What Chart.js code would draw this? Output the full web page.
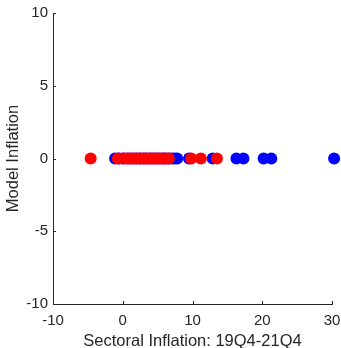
<!DOCTYPE html>
<html>
<head>
<meta charset="utf-8">
<script src="https://cdn.jsdelivr.net/npm/chart.js@4"></script>
<style>
  html, body { margin: 0; padding: 0; background: #fff; }
  #wrap { width: 341px; height: 348px; }
</style>
</head>
<body>
<div id="wrap"><canvas id="myChart"></canvas></div>
<script>
// sectoral inflation (x) vs model inflation (y)
const blueX = [-1.1, -0.5, 0.2, 0.8, 1.3, 1.9, 2.4, 2.9, 3.3, 3.8, 4.2, 4.7, 5.1, 5.6, 6.0, 6.5, 7.0, 7.4, 7.8, 9.5, 12.9, 16.3, 17.3, 20.2, 21.3, 30.3];
const blueY = [0, 0, 0, 0, 0, 0, 0, 0, 0, 0, 0, 0, 0, 0, 0, 0, 0, 0, 0, 0, 0, 0, 0, 0, 0, 0];
const redX = [-4.6, -0.7, 0.0, 0.6, 1.1, 1.6, 2.0, 2.5, 3.0, 3.4, 3.9, 4.4, 4.8, 5.3, 5.8, 6.2, 6.6, 9.8, 11.2, 13.5];
const redY = [0, 0, 0, 0, 0, 0, 0, 0, 0, 0, 0, 0, 0, 0, 0, 0, 0, 0, 0, 0];
const xTicks = [-10, 0, 10, 20, 30];
const yTicks = [-10, -5, 0, 5, 10];

const axisColor = '#262626';
const fontFam = '"Liberation Sans", Arial, Helvetica, sans-serif';

// inward tick marks, matlab style
const innerTicks = {
    id: 'innerTicks',
    afterDraw(chart) {
        const c = chart.ctx, xs = chart.scales.x, ys = chart.scales.y;
        const a = chart.chartArea;
        c.save();
        c.strokeStyle = axisColor;
        c.lineWidth = 1;
        c.beginPath();
        xTicks.forEach(v => {
            const px = Math.round(xs.getPixelForValue(v)) + 0.5;
            c.moveTo(px, a.bottom);
            c.lineTo(px, a.bottom - 3);
        });
        yTicks.forEach(v => {
            const py = Math.round(ys.getPixelForValue(v)) + 0.5;
            c.moveTo(a.left, py);
            c.lineTo(a.left + 3, py);
        });
        c.stroke();
        c.restore();
    }
};

let ctx = document.getElementById('myChart').getContext('2d');
var chart = new Chart(ctx, {
    type: 'scatter',
    data: {
        datasets: [{
            label: 'subset',
            data: redX.map((v, i) => ({x: v, y: redY[i]})),
            backgroundColor: '#ff0000',
            borderWidth: 0,
            pointRadius: 6,
            clip: false,
            order: 0
        }, {
            label: 'all sectors',
            data: blueX.map((v, i) => ({x: v, y: blueY[i]})),
            backgroundColor: '#0000ff',
            borderWidth: 0,
            pointRadius: 6,
            clip: false,
            order: 1
        }]
    },
    options: {
        responsive: true,
        maintainAspectRatio: false,
        animation: false,
        layout: { padding: { top: 13, right: 9, left: 0, bottom: 0 } },
        plugins: { legend: { display: false }, tooltip: { enabled: false } },
        scales: {
            x: {
                type: 'linear',
                min: -10, max: 30,
                afterBuildTicks: s => { s.ticks = xTicks.map(v => ({value: v})); },
                afterFit: s => { s.height = 44; s.paddingLeft = 0; s.paddingRight = 0; },
                grid: { display: false, drawTicks: false },
                border: { display: true, color: axisColor, width: 1 },
                ticks: { color: axisColor, font: { family: fontFam, size: 15 }, padding: 8, maxRotation: 0 },
                title: { display: true, text: 'Sectoral Inflation: 19Q4-21Q4', color: axisColor,
                         font: { family: fontFam, size: 16.5, lineHeight: 1 }, padding: { top: 0, bottom: -2 } }
            },
            y: {
                type: 'linear',
                min: -10, max: 10,
                afterBuildTicks: s => { s.ticks = yTicks.map(v => ({value: v})); },
                afterFit: s => { s.width = 53; s.paddingTop = 0; s.paddingBottom = 0; },
                grid: { display: false, drawTicks: false },
                border: { display: true, color: axisColor, width: 1 },
                ticks: { color: axisColor, font: { family: fontFam, size: 15 }, padding: 5 },
                title: { display: true, text: 'Model Inflation', color: axisColor,
                         font: { family: fontFam, size: 16.5, lineHeight: 1 }, padding: { top: 5, bottom: 0 } }
            }
        }
    },
    plugins: [innerTicks]
});
</script>
</body>
</html>
